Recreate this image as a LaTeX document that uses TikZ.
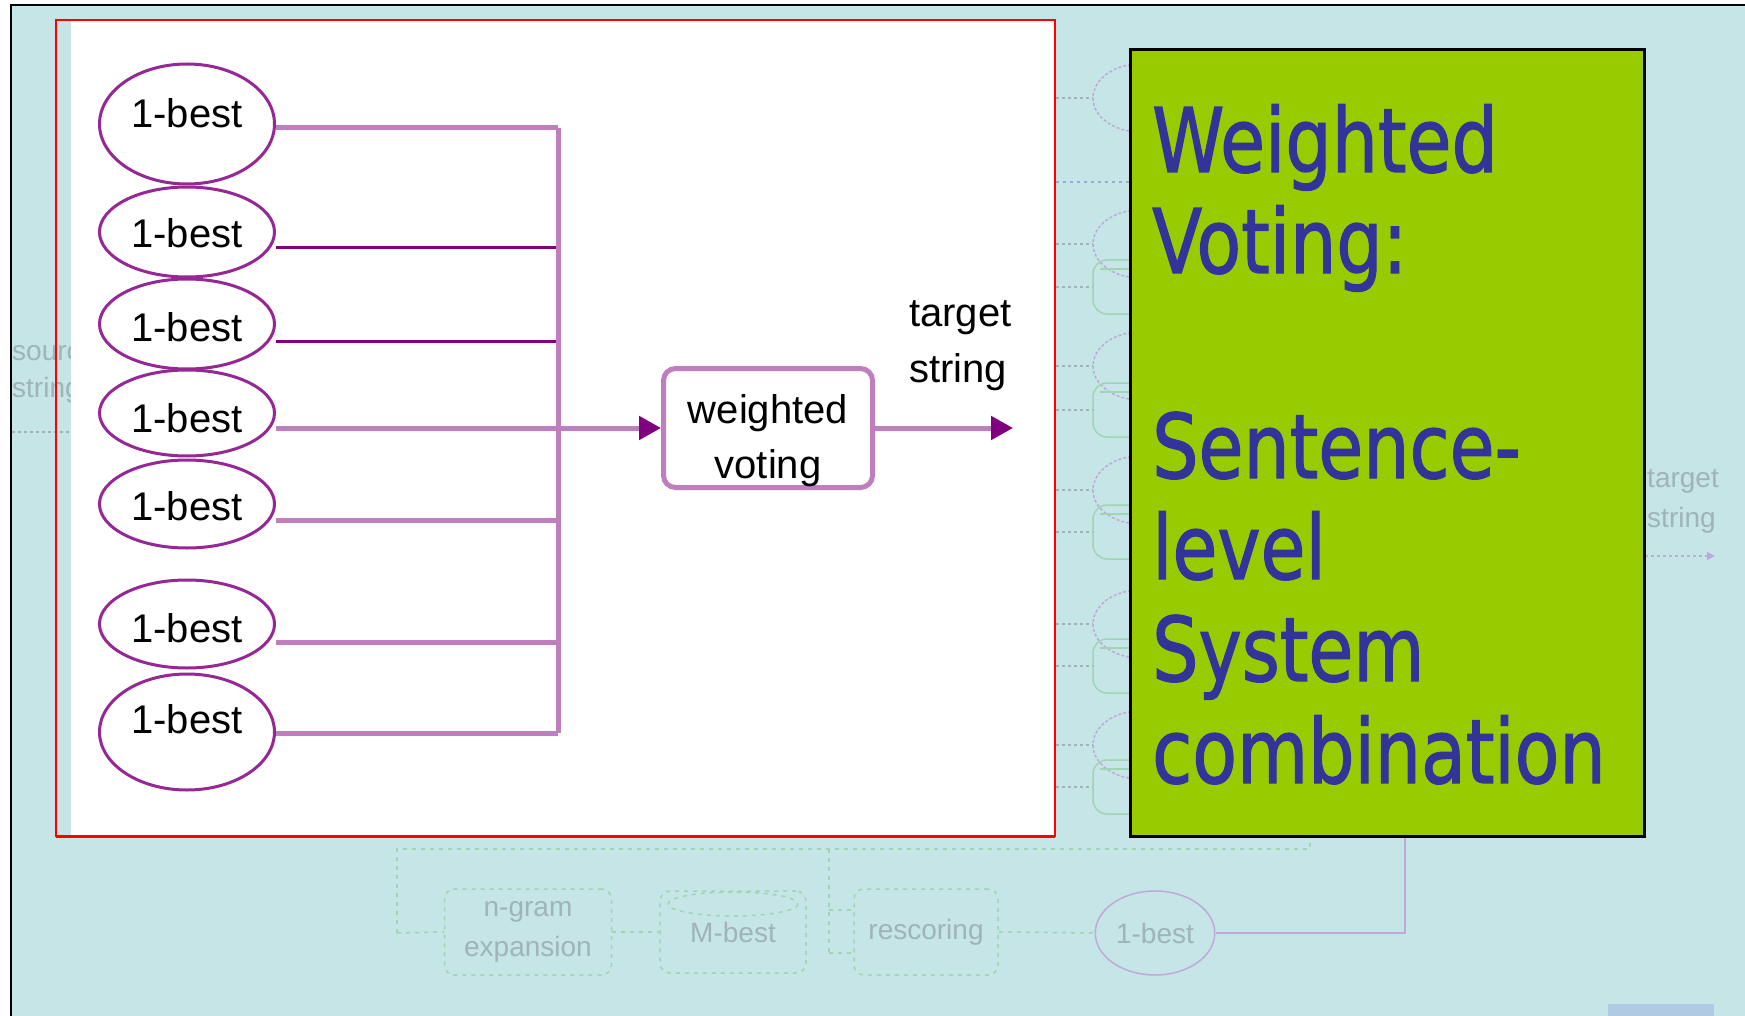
\documentclass[tikz,border=0pt]{standalone}
\usepackage{fontspec}
\setmainfont{Liberation Sans}
\newfontfamily\slidefont[FakeBold=1.6]{DejaVu Sans}
\usetikzlibrary{arrows.meta,shapes.geometric,positioning}

\definecolor{slidebg}{RGB}{197,229,231}
\definecolor{lilac}{RGB}{191,127,191}
\definecolor{plum}{RGB}{128,0,128}
\definecolor{rim}{RGB}{150,40,150}
\definecolor{leaf}{RGB}{153,204,0}
\definecolor{ink}{RGB}{51,51,153}
\definecolor{ghostgray}{RGB}{160,180,184}
\definecolor{ghostgreen}{RGB}{160,212,180}
\definecolor{ghostlilac}{RGB}{190,170,218}
\definecolor{ghostblue}{RGB}{150,170,225}

\newcommand{\tall}[1]{\scalebox{1}[1.22]{#1}}

\tikzset{
  best/.style={ellipse, draw=rim, line width=3pt, fill=white, inner sep=0pt, minimum width=175pt},
  lbl/.style={font=\fontsize{40}{48}\selectfont, anchor=base, inner sep=0pt},
  feed/.style={draw=lilac, line width=5pt},
  feedthin/.style={draw=plum, line width=3pt},
  tip/.style={-{Triangle[length=22pt,width=23pt,color=plum]}},
  votebox/.style={draw=lilac, line width=5pt, rounded corners=12pt, minimum width=209pt, minimum height=119pt, inner sep=0pt},
  bigtxt/.style={font=\slidefont\fontsize{73}{88}\selectfont, text=ink, anchor=base west, inner sep=0pt},
  ghost/.style={draw=ghostgray, line width=1.5pt, dash pattern=on 3pt off 3pt},
  ghostdash/.style={draw=ghostgreen, line width=1.5pt, dash pattern=on 4pt off 5pt},
  ghostbox/.style={ghostdash, rounded corners=10pt},
  ghosttxt/.style={font=\fontsize{28}{34}\selectfont, text=ghostgray, inner sep=0pt}
}

\begin{document}
\begin{tikzpicture}[x=1pt,y=-1pt]
  \useasboundingbox (0,0) rectangle (1745,1016);

  % slide behind
  \fill[white] (0,0) rectangle (1745,1016);
  \fill[slidebg] (11,5) rectangle (1745,1016);
  \draw[line width=2pt] (11,1016) -- (11,5) -- (1745,5);

  % faded column of the old figure
  \foreach \y in {98,244,366,490,624,745}{
    \draw[ghost] (1056,\y) -- (1093,\y);
    \draw[ghostlilac, line width=1.5pt, dash pattern=on 3pt off 2pt] (1140,\y) ellipse (47 and 34);
  }
  \foreach \y in {287,410,532,666,787}{
    \draw[ghost] (1056,\y) -- (1093,\y);
    \draw[ghostgreen, line width=1.5pt, rounded corners=14pt] (1093,\y-27) rectangle (1190,\y+27);
    \draw[ghostgreen, line width=1.5pt] (1100,\y-18) -- (1130,\y-18);
  }
  \draw[ghostblue, line width=1.5pt, dash pattern=on 3pt off 4pt] (1056,182) -- (1130,182);

  % faded labels at the sides
  \node[ghosttxt, anchor=base west] (src1) at (12,360) {source};
  \node[ghosttxt, anchor=base west] (src2) at (12,397) {string};
  \draw[ghost] (12,432) -- (71,432);
  \node[ghosttxt, anchor=base west] (tgt1) at (1647,487) {target};
  \node[ghosttxt, anchor=base west] (tgt2) at (1647,527) {string};
  \draw[ghostlilac, line width=1.5pt, dash pattern=on 3pt off 3pt, -{Triangle[length=8pt,width=8pt]}] (1645,556) -- (1715,556);

  % faded bottom row
  \node[ghostbox, minimum width=167pt, minimum height=86pt, align=center, font=\fontsize{28}{40}\selectfont, text=ghostgray] (ngram) at (528,932) {n-gram\\expansion};
  \node[ghostbox, minimum width=146pt, minimum height=82pt, font=\fontsize{28}{34}\selectfont, text=ghostgray] (mbest) at (733,932) {M-best};
  \draw[ghostdash] (733,904) ellipse (65 and 12);
  \node[ghostbox, minimum width=144pt, minimum height=86pt, font=\fontsize{28}{34}\selectfont, text=ghostgray] (rescore) at (926,932) {rescoring};
  \node[ellipse, draw=ghostlilac, line width=1.5pt, minimum width=117pt, minimum height=84pt, font=\fontsize{28}{34}\selectfont, text=ghostgray] (gbest) at (1155,933) {1-best};
  \draw[ghostdash] (397,933) -- (397,849) -- (1310,849) -- (1310,837);
  \draw[ghostdash] (829,849) -- (829,953);
  \draw[ghostdash] (397,933) -- (ngram.west);
  \draw[ghostdash] (ngram.east) -- (mbest.west);
  \draw[ghostdash] (829,910) -- (854,910);
  \draw[ghostdash] (829,953) -- (854,953);
  \draw[ghostdash] (rescore.east) -- (gbest.west);
  \draw[ghostlilac, line width=2pt] (gbest.east) -- (1405,933) -- (1405,837);
  \fill[ghostblue!45!slidebg] (1608,1004) rectangle (1714,1016);

  % white sheet with red frame
  \fill[white] (71,20) rectangle (1055,836);
  \draw[red, line width=2pt] (56,20) rectangle (1055,836);
  \draw[red, line width=3pt] (56,836) -- (1055,836);

  \coordinate (bus) at (558,0);

  % the seven 1-best outputs
  \foreach \i/\cy/\hh/\by in {1/124/120/128, 2/232/90/248, 3/324/90/341, 4/413/86/432,
                             5/504/88/520, 6/624/88/642, 7/732/116/733}{
    \node[best, minimum height=\hh pt] (b\i) at (187,\cy) {};
    \node[lbl] (t\i) at (187,\by) {1-best};
  }

  \node[votebox] (vote) at (768,428) {};
  \node[lbl] (w1) at (768,423) {weighted};
  \node[lbl] (w2) at (768,478) {voting};

  \foreach \i/\st in {1/feed, 2/feedthin, 3/feedthin, 5/feed, 6/feed, 7/feed}{
    \draw[\st] (b\i.east |- t\i.base) -- (t\i.base -| bus);
  }
  \draw[feed] (t1.base -| bus) -- (t7.base -| bus);
  \draw[feed, tip] (b4.east |- vote.west) -- (vote.west);

  \coordinate (out) at (1013,428);
  \draw[feed, tip] (vote.east) -- (out);
  \node[lbl, anchor=base west] (tg1) at (909,326) {target};
  \node[lbl, anchor=base west] (tg2) at (909,382) {string};

  % green note
  \filldraw[fill=leaf, draw=black, line width=3pt] (1130,50) rectangle (1644,836);
  \foreach \txt/\y in {Weighted/172, Voting:/273, Sentence-/478, level/579, System/681, combination/783}{
    \node[bigtxt] at (1152,\y) {\tall{\txt}};
  }
\end{tikzpicture}
\end{document}
